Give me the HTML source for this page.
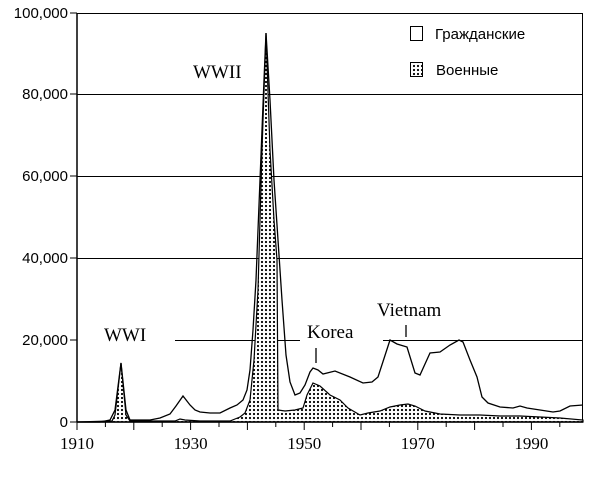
<!DOCTYPE html>
<html><head><meta charset="utf-8"><style>
html,body{margin:0;padding:0;background:#fff;}
</style></head><body>
<svg width="600" height="476" viewBox="0 0 600 476" xmlns="http://www.w3.org/2000/svg">
<defs>
<pattern id="dots" width="4" height="4" patternUnits="userSpaceOnUse">
<rect width="4" height="4" fill="#fff"/>
<circle cx="2" cy="2" r="1.1" fill="#000"/>
</pattern>
</defs>
<rect width="600" height="476" fill="#fff"/>
<g stroke="#000" stroke-width="1">
<line x1="77" y1="13.5" x2="583" y2="13.5"/>
<line x1="77" y1="94.5" x2="583" y2="94.5"/>
<line x1="77" y1="176.5" x2="583" y2="176.5"/>
<line x1="77" y1="258.5" x2="583" y2="258.5"/>
<line x1="175" y1="340.5" x2="300" y2="340.5"/>
<line x1="383" y1="340.5" x2="583" y2="340.5"/>
<line x1="582.5" y1="13" x2="582.5" y2="422"/>
</g>
<polygon fill="url(#dots)" stroke="#000" stroke-width="1.2" points="77,422 112,421 115,415 121,363 126,415 130,421 175,421 180,419 185,420 200,421 230,421 235,419 240,417 245,413 250,400 254,360 258,290 262,150 266,33 270,150 274,220 277,260 278,410 285,411 295,410 303,408 307,395 313,383 320,386 330,395 340,400 348,408 360,415 368,413 380,411 390,407 400,405 408,404 415,406 425,411 440,414 460,415 480,415 500,416 520,416 540,417 560,418 583,420 583,422"/>
<polyline fill="none" stroke="#000" stroke-width="1.3" points="77,422 100,422 110,420 115,410 121,363 126,410 130,420 150,420 160,418 170,414 176,406 183,396 190,405 195,410 200,412 210,413 220,413 230,408 237,405 243,400 247,390 250,370 253,330 256,280 260,180 264,80 266,33 270,100 274,180 278,240 282,300 286,355 290,382 295,395 300,393 305,385 310,372 313,368 318,370 323,374 335,371 350,377 363,383 372,382 378,377 390,340 397,344 407,347 415,373 420,375 430,353 440,352 450,345 459,340 463,342 470,360 477,377 482,397 488,403 500,407 513,408 520,406 527,408 540,410 553,412 560,411 570,406 583,405"/>
<g stroke="#000" stroke-width="1.5">
<line x1="77" y1="13" x2="77" y2="422"/>
<line x1="77" y1="422" x2="583" y2="422"/>
</g>
<g stroke="#000" stroke-width="1">
<line x1="70" y1="422" x2="77" y2="422"/>
<line x1="70" y1="340" x2="77" y2="340"/>
<line x1="70" y1="258" x2="77" y2="258"/>
<line x1="70" y1="176" x2="77" y2="176"/>
<line x1="70" y1="94" x2="77" y2="94"/>
<line x1="70" y1="13" x2="77" y2="13"/>
<line x1="77" y1="422" x2="77" y2="430"/>
<line x1="105.4" y1="422" x2="105.4" y2="427"/>
<line x1="133.8" y1="422" x2="133.8" y2="430"/>
<line x1="162.2" y1="422" x2="162.2" y2="427"/>
<line x1="190.6" y1="422" x2="190.6" y2="430"/>
<line x1="219" y1="422" x2="219" y2="427"/>
<line x1="247.4" y1="422" x2="247.4" y2="430"/>
<line x1="275.8" y1="422" x2="275.8" y2="427"/>
<line x1="304.2" y1="422" x2="304.2" y2="430"/>
<line x1="332.6" y1="422" x2="332.6" y2="427"/>
<line x1="361" y1="422" x2="361" y2="430"/>
<line x1="389.4" y1="422" x2="389.4" y2="427"/>
<line x1="417.8" y1="422" x2="417.8" y2="430"/>
<line x1="446.2" y1="422" x2="446.2" y2="427"/>
<line x1="474.6" y1="422" x2="474.6" y2="430"/>
<line x1="503" y1="422" x2="503" y2="427"/>
<line x1="531.4" y1="422" x2="531.4" y2="430"/>
<line x1="559.8" y1="422" x2="559.8" y2="427"/>
<line x1="316" y1="348" x2="316" y2="363" stroke-width="1.3"/>
<line x1="406" y1="325" x2="406" y2="337" stroke-width="1.3"/>
</g>
<g font-family="Liberation Sans, sans-serif" font-size="15" fill="#000" text-anchor="end">
<text x="68" y="427">0</text>
<text x="68" y="345">20,000</text>
<text x="68" y="263">40,000</text>
<text x="68" y="181">60,000</text>
<text x="68" y="99">80,000</text>
<text x="68" y="18">100,000</text>
</g>
<g font-family="Liberation Serif, serif" font-size="17" fill="#000" text-anchor="middle">
<text x="77" y="449">1910</text>
<text x="190.6" y="449">1930</text>
<text x="304.2" y="449">1950</text>
<text x="417.8" y="449">1970</text>
<text x="531.4" y="449">1990</text>
</g>
<g font-family="Liberation Serif, serif" font-size="19" fill="#000">
<text x="104" y="341">WWI</text>
<text x="193" y="78">WWII</text>
<text x="307" y="338">Korea</text>
<text x="377" y="316">Vietnam</text>
</g>
<rect x="410.5" y="26.5" width="12" height="14" fill="#fff" stroke="#000"/>
<rect x="410.5" y="62.5" width="12" height="14" fill="url(#dots)" stroke="#000"/>
<g font-family="Liberation Sans, sans-serif" font-size="15" fill="#000">
<text x="435" y="39">Гражданские</text>
<text x="436" y="75">Военные</text>
</g>
</svg>
</body></html>
